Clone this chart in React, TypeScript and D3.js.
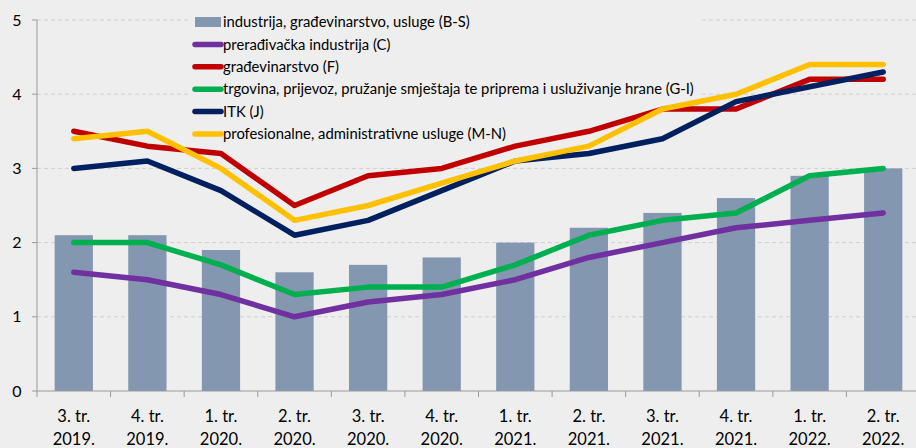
import React from "react";
import * as d3 from "d3";

const categories = [
  ["3. tr.", "2019."], ["4. tr.", "2019."], ["1. tr.", "2020."], ["2. tr.", "2020."],
  ["3. tr.", "2020."], ["4. tr.", "2020."], ["1. tr.", "2021."], ["2. tr.", "2021."],
  ["3. tr.", "2021."], ["4. tr.", "2021."], ["1. tr.", "2022."], ["2. tr.", "2022."],
];
const barValues = [2.1, 2.1, 1.9, 1.6, 1.7, 1.8, 2.0, 2.2, 2.4, 2.6, 2.9, 3.0];
const seriesC = [1.6, 1.5, 1.3, 1.0, 1.2, 1.3, 1.5, 1.8, 2.0, 2.2, 2.3, 2.4];
const seriesF = [3.5, 3.3, 3.2, 2.5, 2.9, 3.0, 3.3, 3.5, 3.8, 3.8, 4.2, 4.2];
const seriesGI = [2.0, 2.0, 1.7, 1.3, 1.4, 1.4, 1.7, 2.1, 2.3, 2.4, 2.9, 3.0];
const seriesJ = [3.0, 3.1, 2.7, 2.1, 2.3, 2.7, 3.1, 3.2, 3.4, 3.9, 4.1, 4.3];
const seriesMN = [3.4, 3.5, 3.0, 2.3, 2.5, 2.8, 3.1, 3.3, 3.8, 4.0, 4.4, 4.4];
const yTicks = [0, 1, 2, 3, 4, 5];

const barLabel = "industrija, građevinarstvo, usluge (B-S)";
const lines = [
  { name: "prerađivačka industrija (C)", values: seriesC, color: "#7030A0" },
  { name: "građevinarstvo (F)", values: seriesF, color: "#C00000" },
  { name: "trgovina, prijevoz, pružanje smještaja te priprema i usluživanje hrane (G-I)", values: seriesGI, color: "#00B050" },
  { name: "ITK (J)", values: seriesJ, color: "#002060" },
  { name: "profesionalne, administrativne usluge (M-N)", values: seriesMN, color: "#FFC000" },
];

const W = 916, H = 448;
const left = 37, right = 920, top = 20, bottom = 391;
const BG = "#eeeeee";
const FONT = "Lato, 'Open Sans', sans-serif";

export default function App() {
  const keys = categories.map((_, i) => String(i));
  const x = d3.scaleBand().domain(keys).range([left, right]).paddingInner(0.48).paddingOuter(0.24);
  const xs = d3.scaleBand().domain(keys).range([left, right]);
  const y = d3.scaleLinear().domain([0, 5]).range([bottom, top]);
  const lineGen = d3.line<number>().x((_, i) => (xs(String(i)) as number) + xs.bandwidth() / 2).y((d) => y(d));

  const legX = 193, legY0 = 22, legDy = 22.4;
  return (
    <svg width={W} height={H} style={{ position: "absolute", left: 0, top: 0, display: "block" }}>
      <rect x={0} y={0} width={W} height={H} fill={BG} />
      {yTicks.filter((t) => t > 0).map((t) => (
        <line key={t} x1={left} x2={right} y1={y(t)} y2={y(t)} stroke="#cfcfcf" strokeWidth={1} strokeDasharray="4,3" />
      ))}
      <rect x={189} y={10} width={510} height={136} fill={BG} />
      {barValues.map((v, i) => (
        <rect key={i} x={x(String(i))} y={y(v)} width={x.bandwidth()} height={y(0) - y(v)} fill="#8497B0" />
      ))}
      <line x1={left} x2={left} y1={top} y2={bottom} stroke="#9a9a9a" />
      <line x1={left} x2={right} y1={bottom} y2={bottom} stroke="#9a9a9a" />
      {yTicks.map((t) => (
        <g key={t}>
          <line x1={left - 5} x2={left} y1={y(t)} y2={y(t)} stroke="#9a9a9a" />
          <text x={17} y={y(t)} dy="0.35em" textAnchor="middle" fontFamily={FONT} fontSize={16} fill="#000">{t}</text>
        </g>
      ))}
      {keys.concat(["12"]).map((k, i) => (
        <line key={k} x1={left + i * xs.bandwidth()} x2={left + i * xs.bandwidth()} y1={bottom} y2={bottom + 6} stroke="#9a9a9a" />
      ))}
      {categories.map((c, i) => {
        const cx = (xs(String(i)) as number) + xs.bandwidth() / 2;
        return (
          <text key={i} x={cx} textAnchor="middle" fontFamily={FONT} fontSize={16.5} fill="#000">
            <tspan x={cx} y={422}>{c[0]}</tspan>
            <tspan x={cx} y={445}>{c[1]}</tspan>
          </text>
        );
      })}
      {lines.map((s) => (
        <path key={s.name} d={lineGen(s.values) || ""} fill="none" stroke={s.color} strokeWidth={5.5} strokeLinejoin="round" strokeLinecap="round" />
      ))}
      <rect x={legX + 2} y={legY0 - 5} width={26} height={10} fill="#8497B0" />
      <text x={legX + 30} y={legY0} dy="0.35em" fontFamily={FONT} fontSize={14.8} fill="#000">{barLabel}</text>
      {lines.map((s, i) => {
        const yy = legY0 + (i + 1) * legDy;
        return (
          <g key={s.name}>
            <line x1={legX + 2} x2={legX + 28} y1={yy} y2={yy} stroke={s.color} strokeWidth={5.5} strokeLinecap="round" />
            <text x={legX + 30} y={yy} dy="0.35em" fontFamily={FONT} fontSize={14.8} fill="#000">{s.name}</text>
          </g>
        );
      })}
    </svg>
  );
}
